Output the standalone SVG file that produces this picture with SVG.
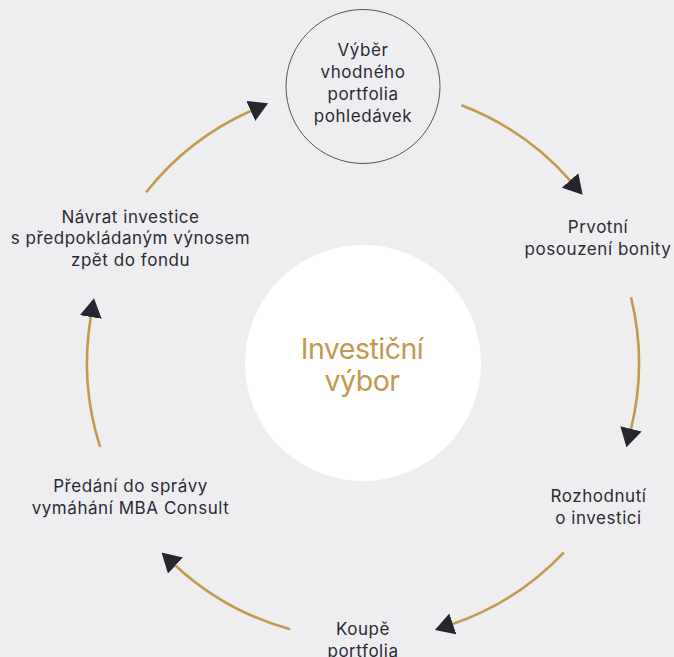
<svg xmlns="http://www.w3.org/2000/svg" width="674" height="657" viewBox="0 0 674 657">
  <defs>
    <marker id="arrow" markerUnits="userSpaceOnUse" viewBox="0 0 19 22" markerWidth="19" markerHeight="22" refX="0.5" refY="11" orient="auto">
      <path d="M0,0 L19,11 L0,22 Z" fill="#26262e"/>
    </marker>
    <style>
      .lbl { font-family: Inter, "Liberation Sans", sans-serif; font-size: 17px; letter-spacing: 0.55px; fill: #2b2b33; text-anchor: middle; }
      .ctr { font-family: Inter, "Liberation Sans", sans-serif; font-size: 28.5px; letter-spacing: -0.5px; fill: #c3984f; text-anchor: middle; }
      .arc { fill: none; stroke: #c49a4f; stroke-width: 2.6; marker-end: url(#arrow); }
    </style>
  </defs>
  <rect width="674" height="657" fill="#eeeef1"/>

  <g id="connectors">
    <path class="arc" d="M461.4,105.2 A276,276 0 0 1 570.4,180.8"/>
    <path class="arc" d="M631.0,297.2 A276,276 0 0 1 630.9,429.3"/>
    <path class="arc" d="M563.9,552.3 A276,276 0 0 1 452.4,624.1"/>
    <path class="arc" d="M290.2,629.2 A276,276 0 0 1 175.1,565.2"/>
    <path class="arc" d="M100.1,446.9 A276,276 0 0 1 90.9,316.5"/>
    <path class="arc" d="M146.1,192.3 A276,276 0 0 1 251.2,110.7"/>
  </g>

  <g id="center">
    <circle cx="363" cy="363" r="118" fill="#ffffff"/>
    <text class="ctr" x="362" y="359">Investiční</text>
    <text class="ctr" x="362" y="391">výbor</text>
  </g>

  <g id="node-vyber">
    <circle cx="363" cy="86.5" r="77" fill="none" stroke="#55555c" stroke-width="1"/>
    <text class="lbl" x="363" y="56">Výběr</text>
    <text class="lbl" x="363" y="78">vhodného</text>
    <text class="lbl" x="363" y="100">portfolia</text>
    <text class="lbl" x="363" y="122">pohledávek</text>
  </g>

  <g id="node-prvotni">
    <text class="lbl" x="598" y="233">Prvotní</text>
    <text class="lbl" x="598" y="255">posouzení bonity</text>
  </g>

  <g id="node-rozhodnuti">
    <text class="lbl" x="598.5" y="502">Rozhodnutí</text>
    <text class="lbl" x="598.5" y="523.5">o investici</text>
  </g>

  <g id="node-koupe">
    <text class="lbl" x="363" y="635">Koupě</text>
    <text class="lbl" x="363" y="657">portfolia</text>
  </g>

  <g id="node-predani">
    <text class="lbl" x="130.5" y="491.5">Předání do správy</text>
    <text class="lbl" x="130.5" y="513.5">vymáhání MBA Consult</text>
  </g>

  <g id="node-navrat">
    <text class="lbl" x="130.5" y="222.5">Návrat investice</text>
    <text class="lbl" x="130.5" y="244">s předpokládaným výnosem</text>
    <text class="lbl" x="130.5" y="265.5">zpět do fondu</text>
  </g>
</svg>
